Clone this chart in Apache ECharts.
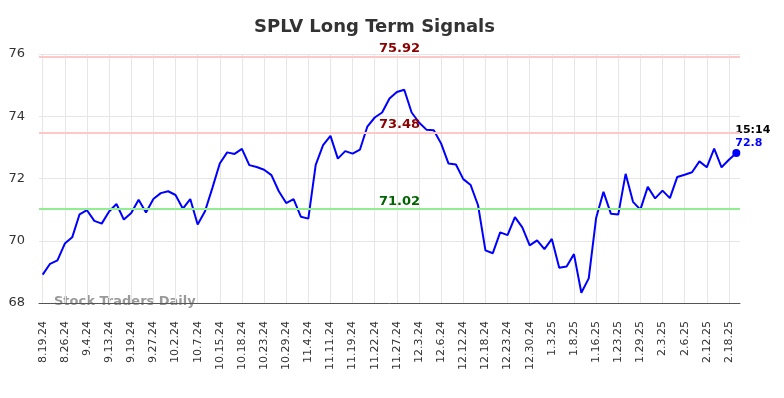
<!DOCTYPE html>
<html><head><meta charset="utf-8">
<script src="https://cdn.jsdelivr.net/npm/echarts@6/dist/echarts.min.js"></script>
<style>html,body{margin:0;padding:0;background:#fff}#c{width:784px;height:398px}</style>
</head><body><div id="c"></div>
<script>
const dates = [
  '8.19.24','8.21.24','8.23.24','8.26.24','8.28.24','8.30.24','9.4.24','9.6.24','9.10.24','9.13.24',
  '9.16.24','9.17.24','9.19.24','9.23.24','9.25.24','9.27.24','9.30.24','10.1.24','10.2.24','10.3.24',
  '10.4.24','10.7.24','10.9.24','10.11.24','10.15.24','10.16.24','10.17.24','10.18.24','10.21.24','10.22.24',
  '10.23.24','10.25.24','10.28.24','10.29.24','10.31.24','11.1.24','11.4.24','11.6.24','11.8.24','11.11.24',
  '11.13.24','11.15.24','11.19.24','11.20.24','11.21.24','11.22.24','11.25.24','11.26.24','11.27.24','11.29.24',
  '12.2.24','12.3.24','12.4.24','12.5.24','12.6.24','12.9.24','12.11.24','12.12.24','12.13.24','12.16.24',
  '12.18.24','12.19.24','12.20.24','12.23.24','12.24.24','12.27.24','12.30.24','12.31.24','1.2.25','1.3.25',
  '1.6.25','1.7.25','1.8.25','1.13.25','1.14.25','1.16.25','1.17.25','1.21.25','1.23.25','1.24.25',
  '1.27.25','1.29.25','1.30.25','1.31.25','2.3.25','2.4.25','2.5.25','2.6.25','2.7.25','2.10.25',
  '2.12.25','2.13.25','2.14.25','2.18.25','2.19.25'
];
const prices = [
  68.91, 69.26, 69.37, 69.91, 70.11, 70.85, 70.98, 70.64, 70.55, 70.94,
  71.18, 70.68, 70.89, 71.32, 70.91, 71.34, 71.53, 71.59, 71.47, 71.03,
  71.34, 70.52, 70.95, 71.70, 72.48, 72.84, 72.79, 72.95, 72.43, 72.37,
  72.28, 72.11, 71.59, 71.21, 71.34, 70.77, 70.71, 72.44, 73.07, 73.37,
  72.64, 72.88, 72.80, 72.93, 73.67, 73.96, 74.12, 74.57, 74.78, 74.85,
  74.12, 73.80, 73.57, 73.55, 73.12, 72.48, 72.45, 71.98, 71.79, 71.14,
  69.69, 69.60, 70.27, 70.18, 70.76, 70.43, 69.85, 70.01, 69.73, 70.06,
  69.13, 69.17, 69.57, 68.33, 68.79, 70.73, 71.57, 70.87, 70.84, 72.15,
  71.25, 71.00, 71.73, 71.36, 71.61, 71.37, 72.05, 72.12, 72.20, 72.55,
  72.36, 72.96, 72.36, 72.60, 72.82
];
const resistanceLevels = [75.92, 73.48];
const supportLevels = [71.02];
const yTicks = [68, 70, 72, 74, 76];
const lastTime = '15:14';
const titleText = 'SPLV Long Term Signals';
const watermarkText = 'Stock Traders Daily';

const FONT = 'DejaVu Sans';
const chart = echarts.init(document.getElementById('c'), null, {renderer: 'canvas'});

const lastIdx = prices.length - 1;
const lastVal = prices[lastIdx];

const mkLabel = (color) => ({
  show: true,
  position: 'insideMiddleTop',
  distance: 1,
  padding: [0, 0, 0, 20],
  color: color,
  fontFamily: FONT,
  fontSize: 13,
  fontWeight: 'bold',
  formatter: p => Number(p.value).toFixed(2)
});

const markData = [
  ...resistanceLevels.map(v => ({yAxis: v, lineStyle: {color: '#ffc8c8', width: 2, type: 'solid'}, label: mkLabel('#8b0000')})),
  ...supportLevels.map(v => ({yAxis: v, lineStyle: {color: '#90ee90', width: 2, type: 'solid'}, label: mkLabel('#006400')}))
];

chart.setOption({
  animation: false,
  backgroundColor: '#fff',
  grid: {left: 39, right: 44, top: 54, bottom: 95, containLabel: false},
  graphic: [
    {type: 'text', x: 374.5, y: 27, style: {text: titleText, textAlign: 'center', textVerticalAlign: 'middle', fontFamily: FONT, fontSize: 18, fontWeight: 'bold', fill: '#333'}},
    {type: 'text', x: 54, y: 302, style: {text: watermarkText, textAlign: 'left', textVerticalAlign: 'middle', fontFamily: FONT, fontSize: 13, fontWeight: 'bold', fill: '#999'}}
  ],
  xAxis: {
    type: 'category',
    data: dates,
    boundaryGap: true,
    axisLine: {show: true, lineStyle: {color: '#555', width: 1}},
    axisTick: {show: false},
    axisLabel: {interval: 2, rotate: 90, margin: 18, fontFamily: FONT, fontSize: 11, color: '#333'},
    splitLine: {show: true, interval: 2, alignWithLabel: true, lineStyle: {color: '#e6e6e6', width: 1}}
  },
  yAxis: {
    type: 'value',
    min: yTicks[0],
    max: yTicks[yTicks.length - 1],
    interval: 2,
    axisLine: {show: false},
    axisTick: {show: false},
    axisLabel: {margin: 14, fontFamily: FONT, fontSize: 13, color: '#333'},
    splitLine: {show: true, lineStyle: {color: '#e6e6e6', width: 1}}
  },
  series: [{
    type: 'line',
    data: prices,
    showSymbol: false,
    symbol: 'none',
    lineStyle: {color: '#0000ff', width: 2},
    itemStyle: {color: '#0000ff'},
    z: 3,
    markLine: {
      silent: true,
      symbol: ['none', 'none'],
      animation: false,
      data: markData
    }
  }, {
    type: 'scatter',
    data: [[lastIdx, lastVal]],
    symbol: 'circle',
    symbolSize: 8,
    itemStyle: {color: '#0000ff', opacity: 1},
    z: 4,
    label: {
      show: true,
      opacity: 1,
      position: [3, -25],
      align: 'left',
      formatter: () => '{t|' + lastTime + '}\n{v|' + lastVal.toFixed(1) + '}',
      rich: {
        t: {fontFamily: FONT, fontSize: 11, fontWeight: 'bold', color: '#000', lineHeight: 13},
        v: {fontFamily: FONT, fontSize: 11, fontWeight: 'bold', color: '#0000ff', lineHeight: 13}
      }
    }
  }]
});
</script></body></html>
